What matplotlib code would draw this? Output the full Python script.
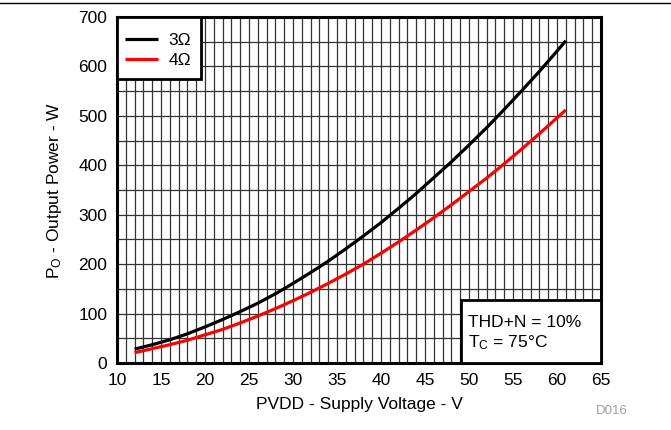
import matplotlib
matplotlib.use("Agg")
import numpy as np
import matplotlib.pyplot as plt
from matplotlib.patches import Rectangle
from matplotlib.lines import Line2D

plt.rcParams["font.family"] = ["Liberation Sans", "DejaVu Sans"]
plt.rcParams["mathtext.default"] = "regular"

# PVDD supply voltage (V)
volts = [12, 14, 16, 18, 20, 22, 24, 26, 28, 30, 32, 34, 36, 38, 40,
         42, 44, 46, 48, 50, 52, 54, 56, 58, 60, 61]
# output power (W) at 10% THD+N
p_3ohm = [28, 37, 47, 59, 73, 88, 104, 121, 140, 161, 183, 206, 231, 257, 284,
          313, 343, 375, 407, 441, 476, 513, 551, 590, 631, 652]
p_4ohm = [21, 29, 37, 46, 57, 68, 81, 95, 110, 126, 143, 161, 180, 200, 222,
          245, 269, 294, 320, 347, 374, 403, 433, 464, 496, 512]
labels = ["3\u03a9", "4\u03a9"]
colors = ["black", "#ff0000"]

FS = 12.5
fig = plt.figure(figsize=(6.71, 4.30), dpi=100)
ax = fig.add_axes([117 / 671, 1 - 363 / 430, 484 / 671, 346 / 430])

ax.set_xlim(10, 65)
ax.set_ylim(0, 700)
ax.set_xticks(np.arange(10, 66, 5))
ax.set_yticks(np.arange(0, 701, 100))
ax.set_xticks(np.arange(10, 66, 1), minor=True)
ax.set_yticks(np.arange(0, 701, 50), minor=True)
ax.grid(True, which="both", color="#333333", lw=0.9)
ax.set_axisbelow(True)
ax.tick_params(which="both", length=0, labelsize=FS, pad=7)
for s in ax.spines.values():
    s.set_linewidth(2.2)

for p, lab, c in zip([p_3ohm, p_4ohm], labels, colors):
    ax.plot(volts, p, color=c, lw=2.3, label=lab, solid_capstyle="butt")

# legend box drawn separately so the padding can differ per direction
ax.add_patch(Rectangle((0.0, 0.821), 0.173, 0.179, transform=ax.transAxes,
                       facecolor="white", edgecolor="black", lw=2.0, zorder=4.5))
ax.legend(loc="upper left", bbox_to_anchor=(0.0, 0.977), borderaxespad=0,
          frameon=False, fontsize=FS, handlelength=1.9, handletextpad=0.6,
          borderpad=0.45, labelspacing=0.3)

ax.add_patch(Rectangle((0.71, 0.0), 0.29, 0.182, transform=ax.transAxes,
                       facecolor="white", edgecolor="black", lw=2.0, zorder=5))
ax.text(0.726, 0.104, "THD+N = 10%", transform=ax.transAxes, fontsize=FS,
        zorder=6)
ax.text(0.726, 0.046, "T$_C$ = 75\u00b0C", transform=ax.transAxes, fontsize=FS,
        zorder=6)

ax.set_xlabel("PVDD - Supply Voltage - V", fontsize=FS, labelpad=6.5)
ax.set_ylabel("P$_O$ - Output Power - W", fontsize=FS, labelpad=10)

fig.text(612 / 671, 1 - 411 / 430, "D016", fontsize=9.5, color="#a0a0a0",
         ha="center", va="center")
fig.add_artist(Line2D([0, 1], [1 - 2.5 / 430, 1 - 2.5 / 430], color="black",
                      lw=1.0, transform=fig.transFigure))

fig.savefig("out.png", dpi=100)
